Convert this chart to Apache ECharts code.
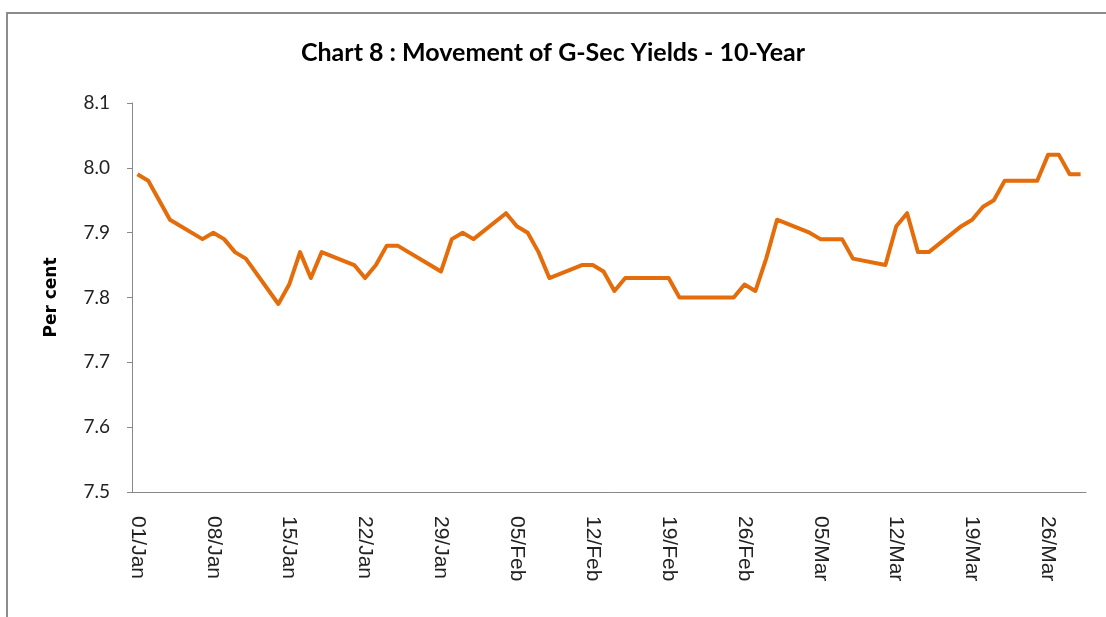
<!DOCTYPE html>
<html>
<head>
<meta charset="utf-8">
<title>Chart 8 : Movement of G-Sec Yields - 10-Year</title>
<script src="https://cdn.jsdelivr.net/npm/echarts@6/dist/echarts.min.js"></script>
<style>
  html, body { margin: 0; padding: 0; background: #fff; }
  #chart { width: 1106px; height: 617px; }
</style>
</head>
<body>
<div id="chart"></div>
<script>
// trading days (2013) and 10-year G-Sec yield, per cent
const tradeDays = [
  '01/Jan', '02/Jan', '03/Jan', '04/Jan',
  '07/Jan', '08/Jan', '09/Jan', '10/Jan', '11/Jan',
  '14/Jan', '15/Jan', '16/Jan', '17/Jan', '18/Jan',
  '21/Jan', '22/Jan', '23/Jan', '24/Jan', '25/Jan',
  '28/Jan', '29/Jan', '30/Jan', '31/Jan', '01/Feb',
  '04/Feb', '05/Feb', '06/Feb', '07/Feb', '08/Feb',
  '11/Feb', '12/Feb', '13/Feb', '14/Feb', '15/Feb',
  '18/Feb', '19/Feb', '20/Feb', '21/Feb', '22/Feb',
  '25/Feb', '26/Feb', '27/Feb', '28/Feb', '01/Mar',
  '04/Mar', '05/Mar', '06/Mar', '07/Mar', '08/Mar',
  '11/Mar', '12/Mar', '13/Mar', '14/Mar', '15/Mar',
  '18/Mar', '19/Mar', '20/Mar', '21/Mar', '22/Mar',
  '25/Mar', '26/Mar', '27/Mar', '28/Mar', '29/Mar'
];
const yields = [
  7.99, 7.98, 7.95, 7.92,
  7.89, 7.90, 7.89, 7.87, 7.86,
  7.79, 7.82, 7.87, 7.83, 7.87,
  7.85, 7.83, 7.85, 7.88, 7.88,
  7.85, 7.84, 7.89, 7.90, 7.89,
  7.93, 7.91, 7.90, 7.87, 7.83,
  7.85, 7.85, 7.84, 7.81, 7.83,
  7.83, 7.83, 7.80, 7.80, 7.80,
  7.80, 7.82, 7.81, 7.86, 7.92,
  7.90, 7.89, 7.89, 7.89, 7.86,
  7.85, 7.91, 7.93, 7.87, 7.87,
  7.91, 7.92, 7.94, 7.95, 7.98,
  7.98, 8.02, 8.02, 7.99, 7.99
];
const firstDay = '2013-01-01';
const lastDay = '2013-03-29';
const months = ['Jan', 'Feb', 'Mar', 'Apr', 'May', 'Jun', 'Jul', 'Aug', 'Sep', 'Oct', 'Nov', 'Dec'];

// calendar date axis: every day gets a slot, weekends are left empty
const calendar = [];
for (let d = new Date(firstDay + 'T00:00:00Z'); d <= new Date(lastDay + 'T00:00:00Z'); d.setUTCDate(d.getUTCDate() + 1)) {
  calendar.push(String(d.getUTCDate()).padStart(2, '0') + '/' + months[d.getUTCMonth()]);
}
const lookup = {};
tradeDays.forEach((t, i) => { lookup[t] = yields[i]; });
const seriesData = calendar.map(c => (c in lookup ? lookup[c] : null));

const chart = echarts.init(document.getElementById('chart'), null, { renderer: 'canvas' });

chart.setOption({
  animation: false,
  backgroundColor: '#fff',
  title: {
    text: 'Chart 8 : Movement of G-Sec Yields - 10-Year',
    left: 'center',
    top: 35,
    textStyle: {
      fontFamily: 'Lato',
      fontWeight: 'bold',
      fontSize: 25,
      color: '#000'
    }
  },
  graphic: [{
    type: 'rect',
    shape: { x: 7, y: 13, width: 1200, height: 700 },
    style: { fill: 'none', stroke: '#8c8c8c', lineWidth: 2 },
    silent: true
  }],
  grid: {
    left: 132,
    right: 20,
    top: 103,
    bottom: 125
  },
  xAxis: {
    type: 'category',
    data: calendar,
    boundaryGap: true,
    axisLine: { lineStyle: { color: '#888', width: 1 } },
    axisTick: { interval: 6, length: 6, lineStyle: { color: '#888' } },
    axisLabel: {
      interval: 6,
      rotate: -90,
      margin: 24,
      fontFamily: 'Liberation Sans',
      fontSize: 21,
      color: '#222'
    },
    splitLine: { show: false }
  },
  yAxis: {
    type: 'value',
    min: 7.5,
    max: 8.1,
    interval: 0.1,
    name: 'Per cent',
    nameLocation: 'middle',
    nameRotate: 90,
    nameGap: 72,
    nameTextStyle: {
      fontFamily: 'DejaVu Sans',
      fontWeight: 'bold',
      fontSize: 17,
      color: '#000'
    },
    axisLine: { show: true, lineStyle: { color: '#888', width: 1 } },
    axisTick: { show: true, length: 5, lineStyle: { color: '#888' } },
    axisLabel: {
      margin: 22,
      fontFamily: 'Lato',
      fontSize: 19,
      color: '#222',
      formatter: v => v.toFixed(1)
    },
    splitLine: { show: false }
  },
  series: [{
    type: 'line',
    data: seriesData,
    connectNulls: true,
    showSymbol: false,
    symbol: 'none',
    lineStyle: { color: '#E46C0A', width: 4, join: 'round' },
    itemStyle: { color: '#E46C0A' }
  }]
});

window.addEventListener('resize', () => chart.resize());
</script>
</body>
</html>
